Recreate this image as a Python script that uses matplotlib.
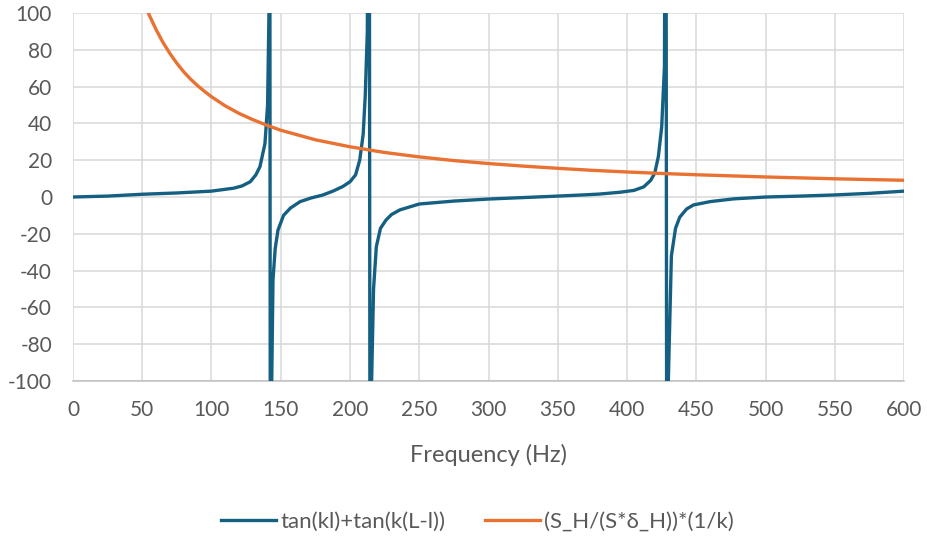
import matplotlib.pyplot as plt
import numpy as np

plt.rcParams['font.family'] = ['Lato', 'DejaVu Sans']
plt.rcParams['axes.unicode_minus'] = False

# tan(kl)+tan(k(L-l)), values (poles near 142, 214, 428 Hz)
freq_tan = [0, 25, 50, 75, 100, 116, 122, 128, 132, 135, 138.6, 140.5, 141.5, 142, 142.6,
            143.5, 144.4, 146, 148, 152, 157, 164, 172, 180, 188, 195, 200, 204, 207, 209.5,
            211, 212.5, 213.8, 214.6, 215.6, 217, 219, 222, 226, 230, 236, 250, 275, 300,
            325, 347, 370, 380, 395, 405, 412, 417, 420, 422.6, 425, 427, 428, 428.8, 429.8,
            432, 435, 438, 443, 448, 460, 477, 500, 525, 549, 575, 600]
tan_vals = [0, 0.5, 1.5, 2.2, 3.2, 4.8, 6, 8.3, 12, 16.5, 29, 50, 100, 300, -300,
            -100, -45, -28, -18, -10, -6, -2.5, -0.5, 1, 3.3, 5.8, 8.3, 12, 20, 34,
            55, 90, 300, -300, -100, -50, -27, -17, -12.5, -9.5, -7, -3.8, -2.2, -1.1,
            -0.3, 0.4, 1.2, 1.6, 2.6, 3.6, 5.5, 9, 13, 22, 38, 71, 300, -300, -100,
            -32, -17, -11, -6.5, -4.3, -2.5, -1, 0, 0.5, 1.1, 2, 3.2]

# (S_H/(S*delta_H))*(1/k)
freq_ratio = [50, 55, 60, 65, 70, 75, 80, 85, 90, 95, 100, 110, 120, 130, 140, 150, 175, 200,
              225, 250, 275, 300, 325, 350, 375, 400, 425, 450, 475, 500, 525, 550, 575, 600]
ratio_vals = [109, 99, 91, 84, 78, 72.7, 68, 64, 60.5, 57.4, 54.5, 49.5, 45.4, 42, 39, 36.3,
              31.1, 27.3, 24.2, 21.8, 19.8, 18.2, 16.8, 15.6, 14.5, 13.6, 12.8, 12.1, 11.5,
              10.9, 10.4, 9.9, 9.5, 9.1]

x_ticks = np.arange(0, 601, 50)
y_ticks = np.arange(-100, 101, 20)

fig = plt.figure(figsize=(9.27, 5.38), dpi=100)
ax = fig.add_axes([0.0787, 0.2918, 0.8966, 0.684])

ax.plot(freq_tan, tan_vals, color='#156082', lw=2.4, label='tan(kl)+tan(k(L-l))', zorder=3)
ax.plot(freq_ratio, ratio_vals, color='#E97132', lw=2.4,
        label='(S_H/(S*δ_H))*(1/k)', zorder=3)

ax.set_xlim(0, 600)
ax.set_ylim(-100, 100)
ax.set_xticks(x_ticks)
ax.set_yticks(y_ticks)
ax.grid(True, color='#d9d9d9', lw=1.1)
ax.set_axisbelow(True)
for s in ['left', 'top', 'right']:
    ax.spines[s].set_visible(False)
ax.spines['bottom'].set_color('#bfbfbf')
ax.spines['bottom'].set_linewidth(1.1)
ax.tick_params(length=0, labelsize=15, colors='#595959', pad=14)
ax.tick_params(axis='y', pad=15)

ax.set_xlabel('Frequency (Hz)', fontsize=17, color='#595959', labelpad=17)

ax.legend(loc='center', bbox_to_anchor=(0.487, -0.382), ncol=2, frameon=False,
          fontsize=16, labelcolor='#595959', handlelength=2.45, handletextpad=0.2,
          columnspacing=1.8)

fig.savefig('out.png', dpi=100)
